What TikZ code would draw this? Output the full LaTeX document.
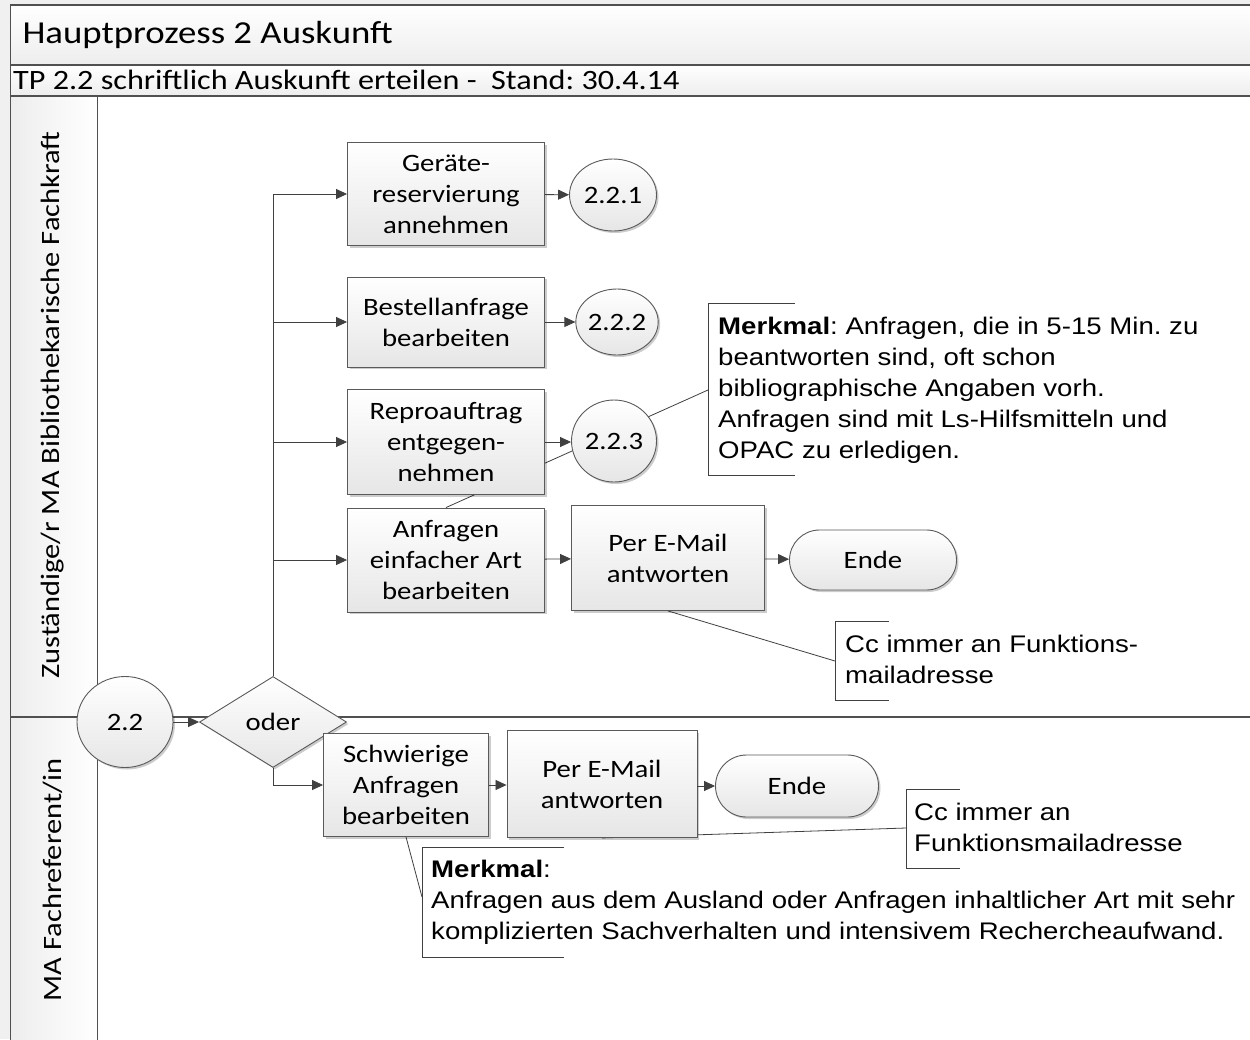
\documentclass[tikz,border=0pt]{standalone}
\usepackage{fontspec}
\setmainfont[FakeStretch=1.15]{Carlito}
\newfontfamily\notefont[FakeStretch=1.15]{Liberation Sans}
\usetikzlibrary{arrows.meta,shapes.geometric,shapes.misc,shadows}
\frenchspacing

\definecolor{linegray}{HTML}{404040}
\definecolor{boxline}{HTML}{5A5A5A}
\definecolor{boxfill}{HTML}{E6E6E6}
\definecolor{pagegray}{HTML}{F0F0F0}
\definecolor{bandgray}{HTML}{EDEDED}
\definecolor{framegray}{HTML}{505050}

\pgfdeclarelayer{back}
\pgfsetlayers{back,main}

\tikzset{
  boxtext/.style={font=\fontsize{25}{31}\selectfont},
  shaped/.style={draw=boxline, line width=0.9pt, top color=white, bottom color=boxfill,
    inner sep=0pt, align=center, boxtext,
    drop shadow={shadow xshift=2pt, shadow yshift=-2pt, opacity=0.2, fill=black}},
  procbox/.style={shaped, rectangle},
  refcircle/.style={shaped, ellipse},
  endbox/.style={shaped, rounded rectangle},
  decision/.style={shaped, diamond},
  notetext/.style={anchor=base west, align=left, inner sep=0pt,
    font=\notefont\fontsize{24}{31}\selectfont},
  bracket/.style={draw=linegray, line width=0.8pt},
  link/.style={draw=linegray, line width=0.8pt},
  flow/.style={link, -{Triangle[length=11pt,width=10pt]}},
}

\begin{document}
\begin{tikzpicture}[x=1pt, y=1pt, yscale=-1]

  \useasboundingbox (0,0) rectangle (1250,1039);

  % shapes
  \node[refcircle, minimum width=96pt, minimum height=91pt] (start) at (125,722) {2.2};
  \node[decision, minimum width=147pt, minimum height=91pt] (dec) at (273,722) {oder};

  % lane one
  \node[procbox, minimum width=197pt, minimum height=103pt] (b1) at (446,194) {Geräte-\\reservierung\\annehmen};
  \node[refcircle, minimum width=87pt, minimum height=72pt] (c1) at (613,195) {2.2.1};
  \node[procbox, minimum width=197pt, minimum height=90pt] (b2) at (446,322) {Bestellanfrage\\bearbeiten};
  \node[refcircle, minimum width=80pt, minimum height=66pt] (c2) at (617,322) {2.2.2};
  \node[procbox, minimum width=197pt, minimum height=105pt] (b3) at (446,442) {Reproauftrag\\entgegen-\\nehmen};
  \node[refcircle, minimum width=85pt, minimum height=82pt] (c3) at (614,441) {2.2.3};
  \node[procbox, minimum width=197pt, minimum height=104pt] (b4) at (446,560) {Anfragen\\einfacher Art\\bearbeiten};
  \node[procbox, minimum width=193pt, minimum height=105pt] (b5) at (668,558) {Per E-Mail\\antworten};
  \node[endbox, minimum width=167pt, minimum height=60pt] (e1) at (873,560) {Ende};

  % lane two
  \node[procbox, minimum width=165pt, minimum height=103pt] (sa) at (406,785) {Schwierige\\Anfragen\\bearbeiten};
  \node[procbox, minimum width=190pt, minimum height=107pt] (b6) at (602,784) {Per E-Mail\\antworten};
  \node[endbox, minimum width=163pt, minimum height=62pt] (e2) at (797,786) {Ende};

  % notes
  \path[bracket] (795,303) -- (708,303) -- (708,475) -- (795,475);
  \coordinate (n1) at (708,390);
  \node[notetext] (t1) at (718,458) {\textbf{Merkmal}: Anfragen, die in 5-15 Min. zu\\beantworten sind, oft schon\\bibliographische Angaben vorh.\\Anfragen sind mit Ls-Hilfsmitteln und\\OPAC zu erledigen.};

  \path[bracket] (889,621) -- (835,621) -- (835,700) -- (889,700);
  \coordinate (n2) at (835,661);
  \node[notetext] (t2) at (845,683) {Cc immer an Funktions-\\mailadresse};

  \path[bracket] (960,789) -- (906,789) -- (906,868) -- (960,868);
  \coordinate (n3) at (906,828);
  \node[notetext] (t3) at (914,851) {Cc immer an\\Funktionsmailadresse};

  \path[bracket] (564,847) -- (422,847) -- (422,957) -- (564,957);
  \coordinate (n4) at (422,897);
  \node[notetext] (t4) at (431,939) {\textbf{Merkmal}:\\Anfragen aus dem Ausland oder Anfragen inhaltlicher Art mit sehr\\komplizierten Sachverhalten und intensivem Rechercheaufwand.};

  % arrows
  \draw[flow] (start) -- (dec);
  \draw[flow] (dec.north) |- (b1.west);
  \foreach \b in {b2,b3,b4}
    \draw[flow] (dec.north |- \b.west) -- (\b.west);
  \draw[flow] (dec.south) |- (sa.west);
  \draw[flow] (b1) -- (c1);
  \draw[flow] (b2) -- (c2);
  \draw[flow] (b3.east) -- (c3.west |- b3.east);
  \draw[flow] (b4) -- (b5);
  \draw[flow] (b5) -- (e1);
  \draw[flow] (sa) -- (b6.west |- sa.east);
  \draw[flow] (b6.east |- e2.west) -- (e2);

  % frame and note links
  \begin{pgfonlayer}{back}
    \fill[pagegray] (0,0) rectangle (1250,1039);
    \fill[white] (97,96) rectangle (1252,1041);
    \path[top color=white, bottom color=bandgray] (10,5) rectangle (1252,65);
    \path[top color=white, bottom color=bandgray] (10,65) rectangle (1252,96);
    \path[left color=bandgray, right color=white] (10,96) rectangle (97,717);
    \path[left color=bandgray, right color=white] (10,717) rectangle (97,1041);
    \draw[framegray, line width=2.5pt] (10,5) -- (1252,5);
    \draw[framegray, line width=1.8pt] (10,65) -- (1252,65);
    \draw[framegray, line width=1.8pt] (10,96) -- (1252,96);
    \draw[framegray, line width=1pt] (10,5) -- (10,1041);
    \draw[framegray, line width=1pt] (97,96) -- (97,1041);
    \draw[framegray, line width=1.2pt] (10,717) -- (1252,717);
    \node[anchor=west, font=\fontsize{32}{36}\selectfont] (title) at (19,35) {Hauptprozess 2 Auskunft};
    \node[anchor=west, font=\fontsize{28}{32}\selectfont, inner sep=0pt] (subtitle) at (13,80) {TP 2.2 schriftlich Auskunft erteilen -\ \ Stand: 30.4.14};
    \node[rotate=90, font=\fontsize{26.5}{30}\selectfont] (lane1) at (53,405) {Zuständige/r MA Bibliothekarische Fachkraft};
    \node[rotate=90, font=\fontsize{26.5}{30}\selectfont] (lane2) at (53,880) {MA Fachreferent/in};
    \draw[link] (n1) -- (b4.north);
    \draw[link] (n2) -- (b5.south);
    \draw[link] (n3) -- (b6.south);
    \draw[link] (n4) -- (sa.south);
  \end{pgfonlayer}

\end{tikzpicture}
\end{document}
